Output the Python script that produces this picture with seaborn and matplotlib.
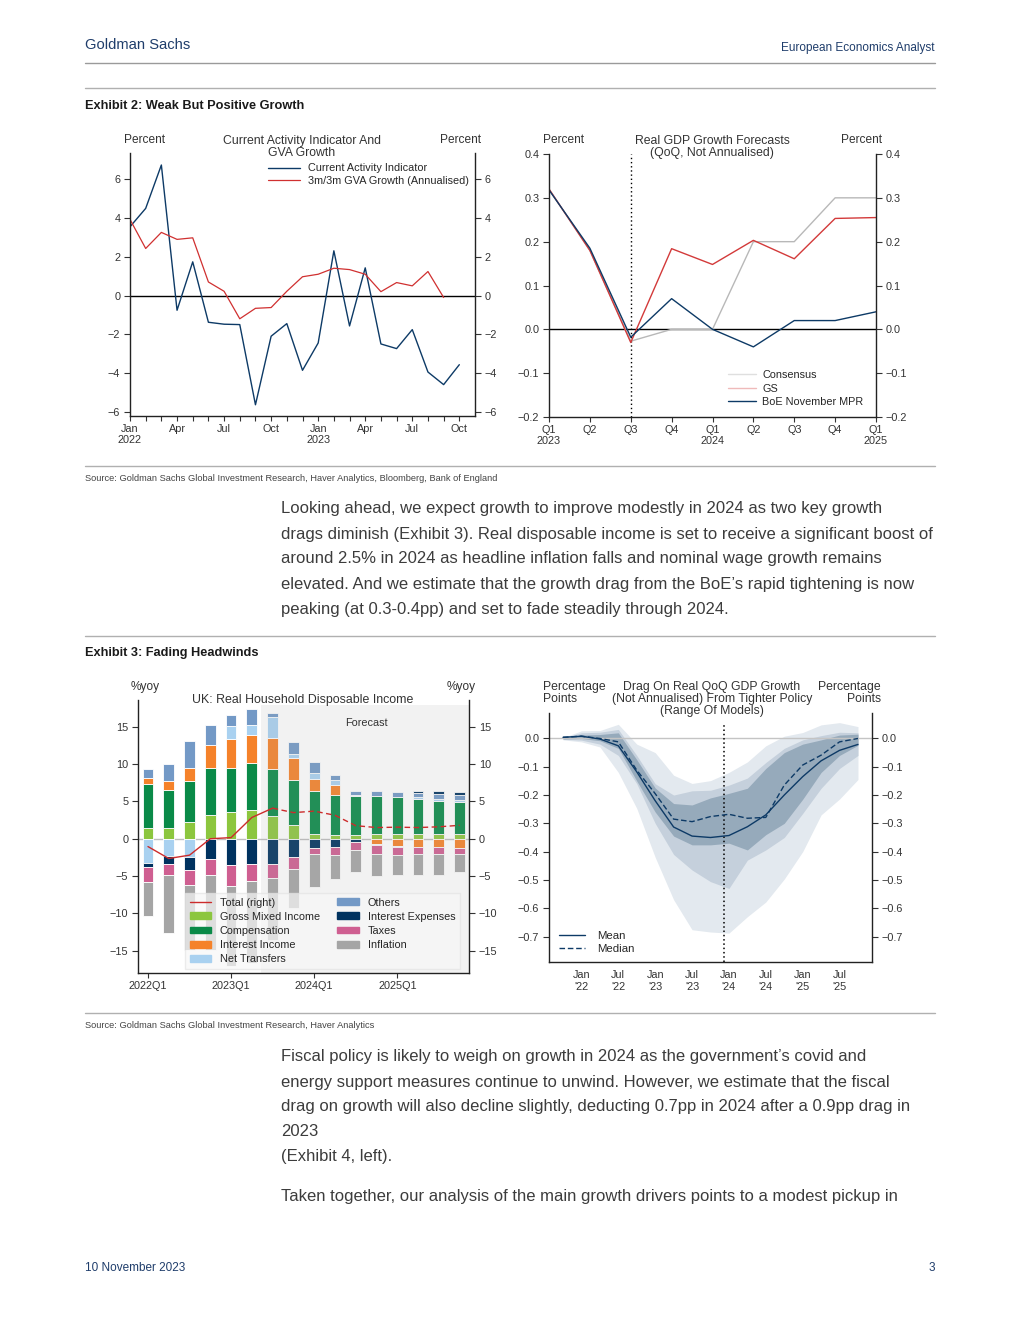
import numpy as np
import matplotlib.pyplot as plt
import matplotlib.lines as mlines
import matplotlib.patches as mpatches
import seaborn as sns
import pandas as pd

sns.set_style('ticks')
plt.rcParams['font.family'] = ['Liberation Sans', 'DejaVu Sans']
plt.rcParams['axes.unicode_minus'] = True

W, H = 1020, 1320
NARROW = ['Liberation Sans Narrow', 'Liberation Sans', 'DejaVu Sans']
GS_BLUE = '#1f3d6b'
INK = '#333333'

# ---------------- data ----------------
# Exhibit 2 left: monthly, Jan 2022 .. Oct 2023
cai = [3.55, 4.5, 6.74, -0.76, 1.74, -1.38, -1.48, -1.5, -5.64, -2.1, -1.45, -3.86,
       -2.45, 2.31, -1.57, 1.43, -2.5, -2.74, -1.76, -3.95, -4.6, -3.57]
gva = [3.93, 2.43, 3.26, 2.9, 2.98, 0.7, 0.22, -1.2, -0.66, -0.62, 0.22, 0.97,
       1.1, 1.41, 1.34, 1.1, 0.2, 0.67, 0.5, 1.24, -0.1]
month_labels = ["Jan\n2022", "Apr", "Jul", "Oct", "Jan\n2023", "Apr", "Jul", "Oct"]

# Exhibit 2 right: quarterly, 2023Q1 .. 2025Q1
gdp_quarters = ["Q1\n2023", "Q2", "Q3", "Q4", "Q1\n2024", "Q2", "Q3", "Q4", "Q1\n2025"]
consensus = [0.32, 0.18, -0.027, 0.0, 0.0, 0.2, 0.2, 0.3, 0.3]
gs_fcst = [0.32, 0.18, -0.03, 0.184, 0.148, 0.203, 0.161, 0.253, 0.255]
boe_mpr = [0.318, 0.185, -0.018, 0.07, 0.0, -0.04, 0.02, 0.02, 0.04]

# Exhibit 3 left: RHDI contributions, 2022Q1 .. 2025Q4
rhdi_quarters = ["2022Q1", "2022Q2", "2022Q3", "2022Q4", "2023Q1", "2023Q2", "2023Q3", "2023Q4",
                 "2024Q1", "2024Q2", "2024Q3", "2024Q4", "2025Q1", "2025Q2", "2025Q3", "2025Q4"]
gross_mixed = [1.4, 1.4, 2.3, 3.15, 3.65, 3.83, 3.0, 1.9, 0.7, 0.45, 0.55, 0.6, 0.6, 0.6, 0.65, 0.65]
compensation = [5.95, 5.1, 5.5, 6.3, 5.8, 6.35, 6.3, 5.95, 5.65, 5.35, 5.2, 5.1, 5.0, 4.75, 4.35, 4.3]
interest_income = [0.75, 1.2, 1.75, 3.1, 3.95, 3.7, 4.25, 3.0, 1.6, 1.35, 0.0, -0.65, -1.0, -1.1, -1.1, -1.2]
net_transfers = [-3.2, -2.35, -2.5, 0.0, 1.7, 1.35, 2.75, 0.45, 0.8, 0.75, 0.1, -0.2, -0.15, 0.2, 0.3, 0.2]
others = [1.3, 2.3, 3.5, 2.65, 1.5, 2.2, 0.6, 1.65, 1.5, 0.7, 0.6, 0.65, 0.65, 0.6, 0.75, 0.75]
interest_exp = [-0.55, -1.1, -1.7, -2.75, -3.55, -3.35, -3.4, -2.5, -1.3, -1.15, -0.45, 0.0, 0.0, 0.25, 0.3, 0.35]
taxes = [-2.05, -1.45, -1.95, -2.1, -2.85, -2.35, -1.85, -1.5, -0.7, -1.0, -1.0, -1.2, -1.05, -1.0, -1.0, -0.85]
inflation = [-4.6, -7.8, -8.8, -10.1, -10.6, -11.0, -8.3, -5.3, -4.45, -3.2, -2.95, -2.9, -2.6, -2.8, -2.7, -2.4]
rhdi_total = [-1.05, -2.65, -2.2, 0.0, 0.15, 2.85, 4.1, 3.5, 3.7, 3.15, 1.75, 1.5, 1.55, 1.5, 1.6, 1.8]
first_forecast = 6

# Exhibit 3 right: quarterly, 2021Q4 .. 2025Q4
drag_mean = [0.004, 0.008, -0.002, -0.026, -0.118, -0.22, -0.313, -0.345, -0.35, -0.343,
             -0.312, -0.27, -0.2, -0.135, -0.079, -0.042, -0.021]
drag_median = [0.004, 0.008, 0.0, -0.012, -0.112, -0.195, -0.285, -0.294, -0.276, -0.268,
               -0.282, -0.279, -0.165, -0.094, -0.059, -0.012, 0.0]
outer_hi = [0.003, 0.027, 0.028, 0.05, -0.02, -0.05, -0.13, -0.159, -0.149, -0.12,
            -0.083, -0.026, 0.008, 0.021, 0.048, 0.056, 0.042]
outer_lo = [-0.005, -0.012, -0.03, -0.12, -0.247, -0.42, -0.57, -0.676, -0.684, -0.688,
            -0.63, -0.578, -0.497, -0.4, -0.27, -0.214, -0.145]
mid_hi = [0.003, 0.02, 0.022, 0.032, -0.06, -0.16, -0.2, -0.185, -0.183, -0.165,
          -0.14, -0.085, -0.035, -0.005, 0.01, 0.022, 0.02]
mid_lo = [-0.003, -0.006, -0.02, -0.06, -0.16, -0.3, -0.41, -0.465, -0.506, -0.53,
          -0.43, -0.394, -0.35, -0.265, -0.176, -0.106, -0.06]
inner_hi = [0.002, 0.012, 0.014, 0.02, -0.075, -0.175, -0.23, -0.235, -0.21, -0.194,
            -0.176, -0.106, -0.05, -0.02, -0.005, 0.012, 0.015]
inner_lo = [-0.002, 0.0, -0.008, -0.035, -0.15, -0.26, -0.345, -0.376, -0.376, -0.37,
            -0.394, -0.34, -0.3, -0.215, -0.12, -0.06, -0.024]
drag_ticks = ["Jan\n'22", "Jul\n'22", "Jan\n'23", "Jul\n'23", "Jan\n'24", "Jul\n'24", "Jan\n'25", "Jul\n'25"]
today_x = 8.73

body1 = ["Looking ahead, we expect growth to improve modestly in 2024 as two key growth",
         "drags diminish (Exhibit 3). Real disposable income is set to receive a significant boost of",
         "around 2.5% in 2024 as headline inflation falls and nominal wage growth remains",
         "elevated. And we estimate that the growth drag from the BoE\u2019s rapid tightening is now",
         "peaking (at 0.3-0.4pp) and set to fade steadily through 2024."]
body2 = ["Fiscal policy is likely to weigh on growth in 2024 as the government\u2019s covid and",
         "energy support measures continue to unwind. However, we estimate that the fiscal",
         "drag on growth will also decline slightly, deducting 0.7pp in 2024 after a 0.9pp drag in",
         "2023",
         "(Exhibit 4, left).",
         "",
         "Taken together, our analysis of the main growth drivers points to a modest pickup in"]

fig = plt.figure(figsize=(W / 100, H / 100), dpi=100)


def add_ax(x0, y0, x1, y1):
    return fig.add_axes([x0 / W, 1 - y1 / H, (x1 - x0) / W, (y1 - y0) / H])


def ftext(x, y, s, **kw):
    kw.setdefault('va', 'center')
    kw.setdefault('color', INK)
    kw.setdefault('fontsize', 8)
    fig.text(x / W, 1 - y / H, s, **kw)


def hline(y, x0=85, x1=935, color='#a6a6a6', lw=1.0):
    fig.add_artist(mlines.Line2D([x0 / W, x1 / W], [1 - y / H, 1 - y / H],
                                 color=color, lw=lw, transform=fig.transFigure))


def style_ax(ax):
    ax.spines['top'].set_visible(False)
    for s in ['left', 'right', 'bottom']:
        ax.spines[s].set_visible(True)
        ax.spines[s].set_linewidth(1.0)
        ax.spines[s].set_color('#222222')
    ax.tick_params(axis='y', which='both', left=True, right=True, labelleft=True, labelright=True,
                   length=4, width=0.8, labelsize=7.8, colors=INK, pad=3)
    ax.tick_params(axis='x', which='both', length=3.5, width=0.8, labelsize=7.8, colors=INK, pad=2)
    ax.set_xlabel('')
    ax.set_ylabel('')
    ax.set_facecolor('none')


# ---------------- page furniture ----------------
ftext(85, 45, "Goldman Sachs", family=NARROW, fontsize=10.6, color=GS_BLUE)
ftext(935, 48, "European Economics Analyst", family=NARROW, fontsize=8.5, color=GS_BLUE, ha='right')
hline(63, color='#9a9a9a')
hline(88, color='#b0b0b0')
ftext(85, 106, "Exhibit 2: Weak But Positive Growth", family=NARROW, fontsize=9.2, weight='bold', color='#1a1a1a')
hline(466, color='#b0b0b0')
ftext(85, 479, "Source: Goldman Sachs Global Investment Research, Haver Analytics, Bloomberg, Bank of England",
      family=NARROW, fontsize=6.7, color='#444444')
for i, line in enumerate(body1):
    ftext(281, 509 + 25 * i, line, fontsize=12, color='#3c3c3c')
hline(636, color='#b0b0b0')
ftext(85, 653, "Exhibit 3: Fading Headwinds", family=NARROW, fontsize=9.2, weight='bold', color='#1a1a1a')
hline(1013, color='#b0b0b0')
ftext(85, 1026, "Source: Goldman Sachs Global Investment Research, Haver Analytics",
      family=NARROW, fontsize=6.7, color='#444444')
for i, line in enumerate(body2):
    if line:
        ftext(281, 1057 + 25 * i - (11 if i == 6 else 0), line, fontsize=12, color='#3c3c3c')
ftext(85, 1268, "10 November 2023", family=NARROW, fontsize=8.5, color=GS_BLUE)
ftext(935, 1268, "3", family=NARROW, fontsize=8.5, color=GS_BLUE, ha='right')

# ---------------- Exhibit 2 left ----------------
ax1 = add_ax(130, 153, 475, 416)
sns.lineplot(x=np.arange(len(cai)), y=cai, ax=ax1, color='#0d3a66', lw=1.0, label='Current Activity Indicator')
sns.lineplot(x=np.arange(len(gva)), y=gva, ax=ax1, color='#d03030', lw=0.9, label='3m/3m GVA Growth (Annualised)')
ax1.axhline(0, color='black', lw=1.0, zorder=1)
ax1.set_xlim(0, 22)
ax1.set_ylim(-6.22, 7.36)
ax1.set_yticks(np.arange(-6, 7, 2))
ax1.set_xticks(np.arange(0, 22, 3))
ax1.set_xticklabels(month_labels)
ax1.set_xticks(np.arange(0, 22), minor=True)
style_ax(ax1)
ax1.legend(loc='upper right', bbox_to_anchor=(1.0, 0.985), frameon=False, fontsize=7.8,
           handlelength=3.0, handletextpad=0.7, labelspacing=0.25, borderaxespad=0.2)
ftext(124, 140, "Percent", ha='left', fontsize=8.6)
ftext(481, 140, "Percent", ha='right', fontsize=8.6)
ftext(302, 147, "Current Activity Indicator And\nGVA Growth", ha='center', fontsize=8.8, linespacing=0.98)

# ---------------- Exhibit 2 right ----------------
ax2 = add_ax(549, 154, 876, 417)
qx = np.arange(len(gdp_quarters))
sns.lineplot(x=qx, y=consensus, ax=ax2, color='#b8b8b8', lw=1.0, label='Consensus')
sns.lineplot(x=qx, y=gs_fcst, ax=ax2, color='#d33a3a', lw=1.0, label='GS')
sns.lineplot(x=qx, y=boe_mpr, ax=ax2, color='#0d3a66', lw=1.0, label='BoE November MPR')
ax2.axhline(0, color='black', lw=1.0, zorder=1)
ax2.axvline(2, color='black', lw=1.0, ls=(0, (1, 2)), zorder=1)
ax2.set_xlim(0, 8)
ax2.set_ylim(-0.2, 0.4)
ax2.set_yticks(np.arange(-0.2, 0.41, 0.1))
ax2.set_yticklabels([f"{v:.1f}".replace('-', '\u2212') for v in np.arange(-0.2, 0.41, 0.1)])
ax2.set_xticks(qx)
ax2.set_xticklabels(gdp_quarters)
style_ax(ax2)
leg2 = ax2.legend(loc='lower right', bbox_to_anchor=(0.985, 0.01), frameon=False, fontsize=7.8,
                  handlelength=2.6, handletextpad=0.6, labelspacing=0.3, borderaxespad=0.3)
for h, a in zip(leg2.get_lines(), [0.45, 0.35, 1.0]):
    h.set_alpha(a)
ftext(543, 140, "Percent", ha='left', fontsize=8.6)
ftext(882, 140, "Percent", ha='right', fontsize=8.6)
ftext(712, 147, "Real GDP Growth Forecasts\n(QoQ, Not Annualised)", ha='center', fontsize=8.8, linespacing=0.98)

# ---------------- Exhibit 3 left ----------------
ax3 = add_ax(138, 700, 469, 973)
bx = np.arange(len(rhdi_quarters))
colors = {
    'Gross Mixed Income': '#8cc63e', 'Compensation': '#0a8a48', 'Interest Income': '#f5822a',
    'Net Transfers': '#a9d1f0', 'Others': '#7399c6', 'Interest Expenses': '#00325f',
    'Taxes': '#cf5f91', 'Inflation': '#a5a5a5',
}
series = {
    'Gross Mixed Income': gross_mixed, 'Compensation': compensation, 'Interest Income': interest_income,
    'Net Transfers': net_transfers, 'Others': others, 'Interest Expenses': interest_exp,
    'Taxes': taxes, 'Inflation': inflation,
}
pos_order = ['Gross Mixed Income', 'Compensation', 'Interest Income', 'Net Transfers', 'Others', 'Interest Expenses']
neg_order = ['Interest Income', 'Net Transfers', 'Interest Expenses', 'Taxes', 'Inflation']
bw = 0.52
pos_bottom = np.zeros(len(bx))
for name in pos_order:
    v = np.clip(np.array(series[name]), 0, None)
    m = v > 0
    ax3.bar(bx[m], v[m], bottom=pos_bottom[m], width=bw, color=colors[name], edgecolor='white', lw=0.6, zorder=2)
    pos_bottom += v
neg_bottom = np.zeros(len(bx))
for name in neg_order:
    v = np.clip(np.array(series[name]), None, 0)
    m = v < 0
    ax3.bar(bx[m], v[m], bottom=neg_bottom[m], width=bw, color=colors[name], edgecolor='white', lw=0.6, zorder=2)
    neg_bottom += v
ax3.axhline(0, color='#bdbdbd', lw=1.0, zorder=1)
ax3.axvspan(first_forecast - 0.55, 15.6, ymin=0, ymax=(17.9 + 18.0) / 36.6, color='#aeaeae', alpha=0.15, lw=0, zorder=2.5)
ax3.plot(bx[:first_forecast + 1], rhdi_total[:first_forecast + 1], color='#cc2b2b', lw=1.0, zorder=4)
ax3.plot(bx[first_forecast:], rhdi_total[first_forecast:], color='#cc2b2b', lw=1.0, ls=(0, (4, 2.5)), zorder=4)
ax3.set_xlim(-0.48, 15.45)
ax3.set_ylim(-18.0, 18.6)
ax3.set_yticks(np.arange(-15, 16, 5))
ax3.set_xticks([0, 4, 8, 12])
ax3.set_xticklabels([rhdi_quarters[i] for i in [0, 4, 8, 12]])
style_ax(ax3)
handles = [mlines.Line2D([], [], color='#cc2b2b', lw=1.0, label='Total (right)')]
for name in ['Gross Mixed Income', 'Compensation', 'Interest Income', 'Net Transfers',
             'Others', 'Interest Expenses', 'Taxes', 'Inflation']:
    handles.append(mpatches.Patch(color=colors[name], label=name))
leg3 = ax3.legend(handles=handles, ncol=2, loc='lower right', bbox_to_anchor=(0.99, -0.005), fontsize=7.8,
                  frameon=True, fancybox=False, framealpha=0.7, facecolor='#f7f7f7', edgecolor='#e4e4e4',
                  handlelength=2.0, handleheight=0.6, handletextpad=0.8, columnspacing=1.6,
                  labelspacing=0.38, borderpad=0.45)
leg3.set_zorder(5)
ftext(131, 687, "%yoy", ha='left', fontsize=8.6)
ftext(476, 687, "%yoy", ha='right', fontsize=8.6)
ftext(303, 700, "UK: Real Household Disposable Income", ha='center', fontsize=8.9)
ftext(366, 723, "Forecast", ha='center', fontsize=7.8)

# ---------------- Exhibit 3 right ----------------
ax4 = add_ax(549, 713, 872, 962)
dx = np.arange(len(drag_mean))
ax4.fill_between(dx, outer_lo, outer_hi, color='#e3e9ef', lw=0, zorder=1)
ax4.fill_between(dx, mid_lo, mid_hi, color='#c5d0dc', lw=0, zorder=1.1)
ax4.fill_between(dx, inner_lo, inner_hi, color='#96aabb', lw=0, zorder=1.2)
ax4.axhline(0, color='#c4c4c4', lw=1.0, zorder=2)
ax4.plot([today_x, today_x], [-0.79, 0.047], color='black', lw=1.1, ls=(0, (1, 1.8)), zorder=3)
df4 = pd.DataFrame({'x': np.concatenate([dx, dx]),
                    'y': drag_mean + drag_median,
                    'stat': ['Mean'] * len(dx) + ['Median'] * len(dx)})
sns.lineplot(data=df4, x='x', y='y', style='stat', ax=ax4, color='#0d3a66', lw=1.0,
             dashes={'Mean': '', 'Median': (4, 2)}, zorder=4)
ax4.set_xlim(-0.76, 16.76)
ax4.set_ylim(-0.79, 0.09)
ax4.set_yticks(np.arange(-0.7, 0.01, 0.1))
ax4.set_yticklabels([f"{v:.1f}".replace('-', '\u2212') if abs(v) > 1e-9 else "0.0" for v in np.arange(-0.7, 0.01, 0.1)])
ax4.set_xticks(np.arange(1, 16, 2))
ax4.set_xticklabels(drag_ticks)
style_ax(ax4)
ax4.tick_params(axis='x', length=0, pad=6)
ax4.legend(loc='lower left', bbox_to_anchor=(0.0, -0.01), frameon=False, fontsize=8.2,
           handlelength=2.3, handletextpad=1.0, labelspacing=0.3, title=None)
ftext(543, 693, "Percentage\nPoints", ha='left', fontsize=8.8, linespacing=0.98)
ftext(881, 693, "Percentage\nPoints", ha='right', multialignment='right', fontsize=8.8, linespacing=0.98)
ftext(712, 699, "Drag On Real QoQ GDP Growth\n(Not Annualised) From Tighter Policy\n(Range Of Models)",
      ha='center', fontsize=8.8, linespacing=0.98)

fig.savefig('out.png', dpi=100)
